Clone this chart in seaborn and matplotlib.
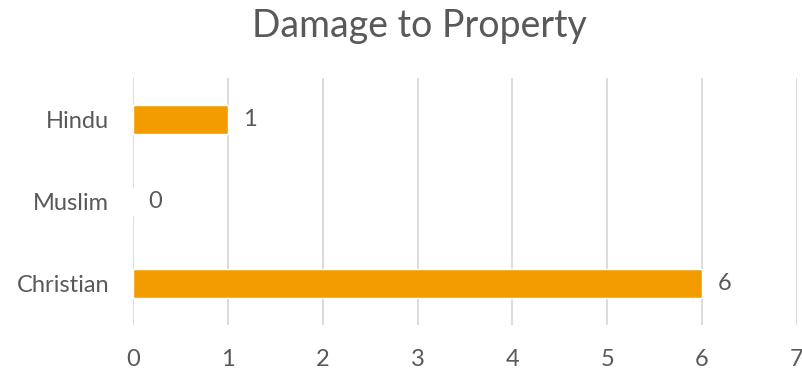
import matplotlib
matplotlib.use("Agg")
import matplotlib.pyplot as plt
import seaborn as sns
import pandas as pd

categories = ["Hindu", "Muslim", "Christian"]
values = [1, 0, 6]
x_ticks = [0, 1, 2, 3, 4, 5, 6, 7]

sns.set_theme(style="white")
plt.rcParams["font.family"] = ["Lato", "DejaVu Sans"]

text_color = "#595959"
bar_color = "#F39C00"
grid_color = "#D9D9D9"

df = pd.DataFrame({"religion": categories, "count": values})

fig = plt.figure(figsize=(8.03, 3.70), dpi=100)
ax = fig.add_axes([0.1656, 0.1216, 0.8269, 0.6676])

sns.barplot(data=df, x="count", y="religion", order=categories,
            color=bar_color, saturation=1, width=0.35, ax=ax, zorder=3)

ax.set_xlim(0, 7)
ax.set_ylim(2.5, -0.5)
ax.set_xticks(x_ticks)
ax.set_xticklabels([str(t) for t in x_ticks])
ax.grid(axis="x", color=grid_color, linewidth=1.3, zorder=0)
ax.grid(axis="y", visible=False)
for s in ax.spines.values():
    s.set_visible(False)
ax.tick_params(axis="both", length=0, colors=text_color, labelsize=17)
ax.tick_params(axis="x", pad=17)
ax.tick_params(axis="y", pad=17)
ax.set_xlabel("")
ax.set_ylabel("")

for i, v in enumerate(values):
    ax.annotate(str(v), xy=(v, i), xytext=(11, 0), textcoords="offset points",
                ha="left", va="center", fontsize=17, color=text_color)

fig.text(0.522, 0.93, "Damage to Property", ha="center", va="center",
         fontsize=27, color=text_color)

fig.savefig("out.png", dpi=100)
